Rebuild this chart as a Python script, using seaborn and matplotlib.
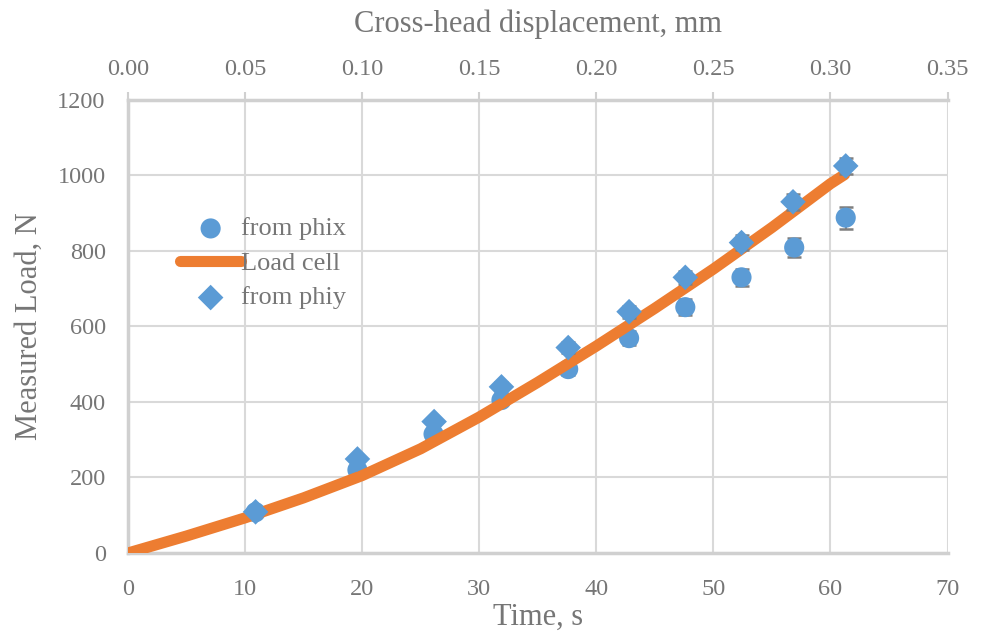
import numpy as np
import pandas as pd
import matplotlib
matplotlib.use("Agg")
import matplotlib.pyplot as plt
import seaborn as sns

# load cell curve (time in s, load in N)
cell_time = [0, 5, 10, 15, 20, 25, 30, 35, 40, 45, 50, 55, 60, 61.2]
cell_load = [0, 45, 93, 146, 205, 276, 360, 452, 548, 648, 752, 862, 978, 1002]

# optical estimates
phix_time = [10.9, 19.6, 26.1, 31.9, 37.6, 42.8, 47.6, 52.4, 56.9, 61.3]
phix_load = [108, 220, 315, 405, 487, 569, 651, 730, 809, 888]
phix_err = [4, 7, 10, 13, 16, 19, 21, 23, 25, 29]

phiy_time = [10.9, 19.6, 26.15, 31.9, 37.6, 42.8, 47.6, 52.4, 56.8, 61.3]
phiy_load = [109, 249, 348, 440, 544, 639, 730, 822, 930, 1025]
phiy_err = [5, 8, 10, 12, 14, 16, 18, 20, 21, 22]

time_ticks = [0, 10, 20, 30, 40, 50, 60, 70]
disp_ticks = [0.00, 0.05, 0.10, 0.15, 0.20, 0.25, 0.30, 0.35]
load_ticks = [0, 200, 400, 600, 800, 1000, 1200]

BLUE = "#5b9bd5"
ORANGE = "#ed7d31"
GRID = "#d9d9d9"
TXT = "#767676"

sns.set_style("white")
plt.rcParams["font.family"] = ["Liberation Serif", "DejaVu Serif"]

df_cell = pd.DataFrame({"t": cell_time, "load": cell_load})
df_x = pd.DataFrame({"t": phix_time, "load": phix_load})
df_y = pd.DataFrame({"t": phiy_time, "load": phiy_load})

fig, ax = plt.subplots(figsize=(9.84, 6.36), dpi=100)
fig.subplots_adjust(left=0.130, right=0.963, top=0.843, bottom=0.1305)

ax.errorbar(phix_time, phix_load, yerr=phix_err, fmt="none", ecolor="#7f7f7f",
            elinewidth=1.5, capsize=5, capthick=1.8, zorder=2)
sns.scatterplot(data=df_x, x="t", y="load", ax=ax, marker="o", s=210,
                color=BLUE, edgecolor="none", label="from phix", zorder=3)
sns.lineplot(data=df_cell, x="t", y="load", ax=ax, color=ORANGE, lw=8,
             solid_capstyle="round", solid_joinstyle="round",
             label="Load cell", zorder=4)
ax.errorbar(phiy_time, phiy_load, yerr=phiy_err, fmt="none", ecolor="#7f7f7f",
            elinewidth=1.5, capsize=5, capthick=1.8, zorder=5)
sns.scatterplot(data=df_y, x="t", y="load", ax=ax, marker="D", s=170,
                color=BLUE, edgecolor="none", label="from phiy", zorder=6)

ax.set_xlim(0, 70)
ax.set_ylim(0, 1200)
ax.set_xticks(time_ticks)
ax.set_yticks(load_ticks)
ax.grid(True, color=GRID, lw=1.5)
ax.set_axisbelow(True)
for side in ["top", "right"]:
    ax.spines[side].set_visible(False)
for side in ["left", "bottom"]:
    ax.spines[side].set_color("#d0d0d0")
    ax.spines[side].set_linewidth(2.5)
ax.tick_params(axis="both", length=0, labelsize=17.5, colors=TXT)
ax.tick_params(axis="x", pad=19)
ax.tick_params(axis="y", pad=16)
ax.set_xlabel("Time, s", fontsize=22, color=TXT, labelpad=2)
ax.set_ylabel("Measured Load, N", fontsize=22, color=TXT, labelpad=10)

# top axis: cross-head displacement
ax2 = ax.twiny()
ax2.set_xlim(0, 0.35)
ax2.set_xticks(disp_ticks)
ax2.set_xticklabels([f"{v:.2f}" for v in disp_ticks])
for side in ["bottom", "left", "right"]:
    ax2.spines[side].set_visible(False)
ax2.spines["top"].set_color("#d0d0d0")
ax2.spines["top"].set_linewidth(2.5)
ax2.tick_params(axis="x", direction="out", length=6, width=1.5, color="#d0d0d0",
                labelsize=17.5, labelcolor=TXT, pad=8)
ax2.set_xlabel("Cross-head displacement, mm", fontsize=22, color=TXT, labelpad=20)

leg = ax.legend(loc="upper left", bbox_to_anchor=(0.051, 0.765), frameon=False,
                fontsize=19, handlelength=2.3, handletextpad=0.0,
                labelspacing=0.42, borderaxespad=0)
for t in leg.get_texts():
    t.set_color(TXT)

fig.savefig("out.png", dpi=100)
